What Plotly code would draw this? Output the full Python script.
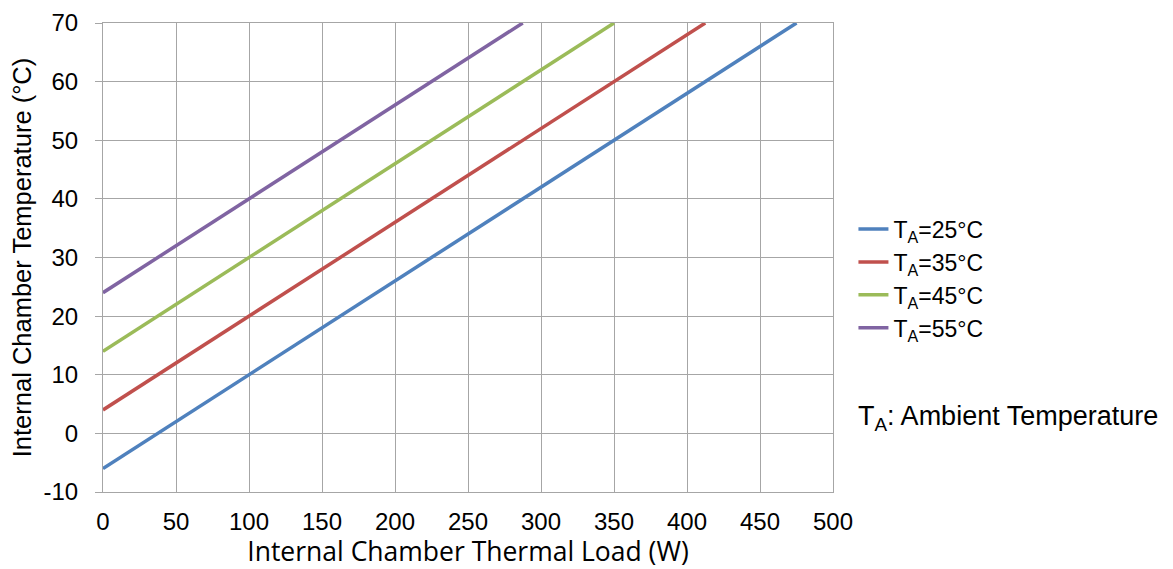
import plotly.graph_objects as go

# Thermal load (W) and internal chamber temperature (°C)
load_25 = [0, 100, 200, 300, 400, 475]
temp_25 = [-6, 10, 26, 42, 58, 70]
load_35 = [0, 100, 200, 300, 400, 412.5]
temp_35 = [4, 20, 36, 52, 68, 70]
load_45 = [0, 100, 200, 300, 350]
temp_45 = [14, 30, 46, 62, 70]
load_55 = [0, 100, 200, 287.5]
temp_55 = [24, 40, 56, 70]

series_names = ["T<sub>A</sub>=25°C", "T<sub>A</sub>=35°C", "T<sub>A</sub>=45°C", "T<sub>A</sub>=55°C"]
colors = ["#4F81BD", "#C0504D", "#9BBB59", "#8064A2"]

x_ticks = [0, 50, 100, 150, 200, 250, 300, 350, 400, 450, 500]
y_ticks = [-10, 0, 10, 20, 30, 40, 50, 60, 70]
y_tick_text = ["-10", "0", "10", "20", "30", "40", "50", "60", "70"]

fig = go.Figure()
for xs, ys, name, c in zip([load_25, load_35, load_45, load_55],
                           [temp_25, temp_35, temp_45, temp_55],
                           series_names, colors):
    fig.add_trace(go.Scatter(x=xs, y=ys, mode="lines", name=name,
                             line=dict(color=c, width=3.5)))

grid = "#A6A6A6"
fig.update_layout(
    width=1165, height=561,
    margin=dict(l=95, r=340, t=15, b=77),
    paper_bgcolor="white", plot_bgcolor="white",
    font=dict(family="Liberation Sans, Arial, sans-serif", color="black", size=24),
    showlegend=True,
    legend=dict(x=1.028, y=0.455, xanchor="left", yanchor="middle",
                font=dict(size=23), tracegroupgap=0, bgcolor="rgba(0,0,0,0)"),
    xaxis=dict(range=[0, 500], tickvals=x_ticks, showgrid=True, gridcolor=grid,
               gridwidth=1, zeroline=False, showline=True, linecolor=grid,
               ticks="outside", ticklen=8, tickcolor="rgba(0,0,0,0)", tickfont=dict(size=24),
               automargin=False,
               title=dict(text="Internal Chamber Thermal Load (W)",
                          font=dict(family="Open Sans, sans-serif", size=26.5),
                          standoff=10),
               mirror=True),
    yaxis=dict(range=[-10, 70], tickvals=y_ticks, ticktext=y_tick_text,
               showgrid=True, gridcolor=grid,
               gridwidth=1, zeroline=False, showline=True, linecolor=grid,
               ticks="outside", ticklen=7, tickcolor=grid, tickfont=dict(size=24),
               ticklabelstandoff=12, automargin=False,
               title=dict(text="Internal Chamber Temperature (°C)",
                          font=dict(size=25.5), standoff=12),
               mirror=True),
    annotations=[dict(text="T<sub>A</sub>: Ambient Temperature", xref="paper", yref="paper",
                      x=1.032, y=0.158, xanchor="left", yanchor="middle",
                      showarrow=False, font=dict(size=27))],
)

fig.write_html("out.html")
